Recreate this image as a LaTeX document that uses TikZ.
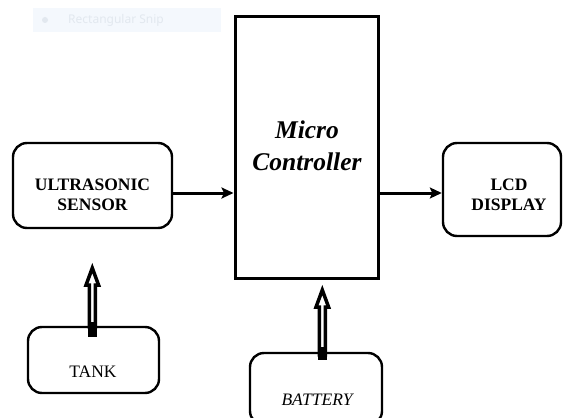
\documentclass[tikz,border=0pt]{standalone}
\usepackage{fontspec}
\setmainfont{Liberation Serif}
\newfontfamily\uifont{Noto Sans}
\usetikzlibrary{arrows.meta,calc}
\definecolor{snipbg}{HTML}{F4F8FD}
\definecolor{snipfg}{HTML}{E2E8EF}

% hollow block arrow pointing up: #1 base point, #2 tip point
\newcommand\hollowup[2]{%
  \draw[hollow] let \p1=(#1), \p2=(#2) in
    (\x1-3pt,\y1) -- (\x1-3pt,\y2-17pt) -- (\x1-6.25pt,\y2-17pt) -- (\x1,\y2)
    -- (\x1+6.25pt,\y2-17pt) -- (\x1+3pt,\y2-17pt) -- (\x1+3pt,\y1) -- cycle;}

\begin{document}
\begin{tikzpicture}[x=1pt,y=-1pt,
  block/.style={draw, line width=2.4pt, rounded corners=14pt, inner sep=0pt},
  mcbox/.style={draw, line width=3pt, inner sep=0pt},
  lbl/.style={font=\fontsize{17.5}{20}\selectfont\bfseries, align=center, inner sep=0pt},
  plain/.style={font=\fontsize{17.5}{20}\selectfont, inner sep=0pt},
  conn/.style={line width=3pt, -{Stealth[length=12pt,width=11pt,inset=2.5pt]}},
  hollow/.style={draw, fill=white, line width=3.5pt, line join=miter, miter limit=10},
  plug/.style={fill=black},
]
\useasboundingbox (0,0) rectangle (564,417);
\clip (0,0) rectangle (564,417);

% faint toolbar strip
\fill[snipbg] (33,8) rectangle (221,32);
\fill[snipfg] (45,20) circle (3pt);
\node[text=snipfg, font=\uifont\fontsize{12}{14}\selectfont, anchor=west, inner sep=0pt] (snip) at (68,20) {Rectangular Snip};

% blocks
\node[mcbox, minimum width=143pt, minimum height=261pt] (mc) at (306.5,147.5) {};
\node[lbl, font=\fontsize{25.5}{32}\selectfont\bfseries\itshape] (mctext) at (307,146) {Micro\\Controller};

\node[block, minimum width=159pt, minimum height=85pt] (sensor) at (92.5,185.5) {};
\node[lbl] (sensortext) at (92.5,195) {ULTRASONIC\\SENSOR};

\node[block, minimum width=118pt, minimum height=93pt] (lcd) at (502,189.5) {};
\node[lbl] (lcdtext) at (509,195) {LCD\\DISPLAY};

\node[block, minimum width=131pt, minimum height=66pt] (tank) at (93.5,360) {};
\node[plain] (tanktext) at (93,372) {TANK};

\node[block, minimum width=132pt, minimum height=72pt] (battery) at (316,389) {};
\node[plain, font=\fontsize{17.5}{20}\selectfont\itshape] (batterytext) at (317,400) {BATTERY};

% signal connectors
\draw[conn] ([yshift=-7.5pt]sensor.east) -- ([yshift=-7.5pt]sensor.east -| mc.west);
\draw[conn] ([yshift=-3.5pt]lcd.west -| mc.east) -- ([yshift=-3.5pt]lcd.west);

% hollow supply arrows
\coordinate (tankbase) at ([xshift=-1.2pt,yshift=-1pt]tank.north);
\coordinate (tanktip) at (92.3,268);
\hollowup{tankbase}{tanktip}
\fill[plug] (87.7,322) rectangle (97,337);

\coordinate (batbase) at ([xshift=6.3pt,yshift=-3pt]battery.north);
\coordinate (battip) at (322.3,290);
\hollowup{batbase}{battip}
\fill[plug] (317.7,347) rectangle (327,360);
\end{tikzpicture}
\end{document}
